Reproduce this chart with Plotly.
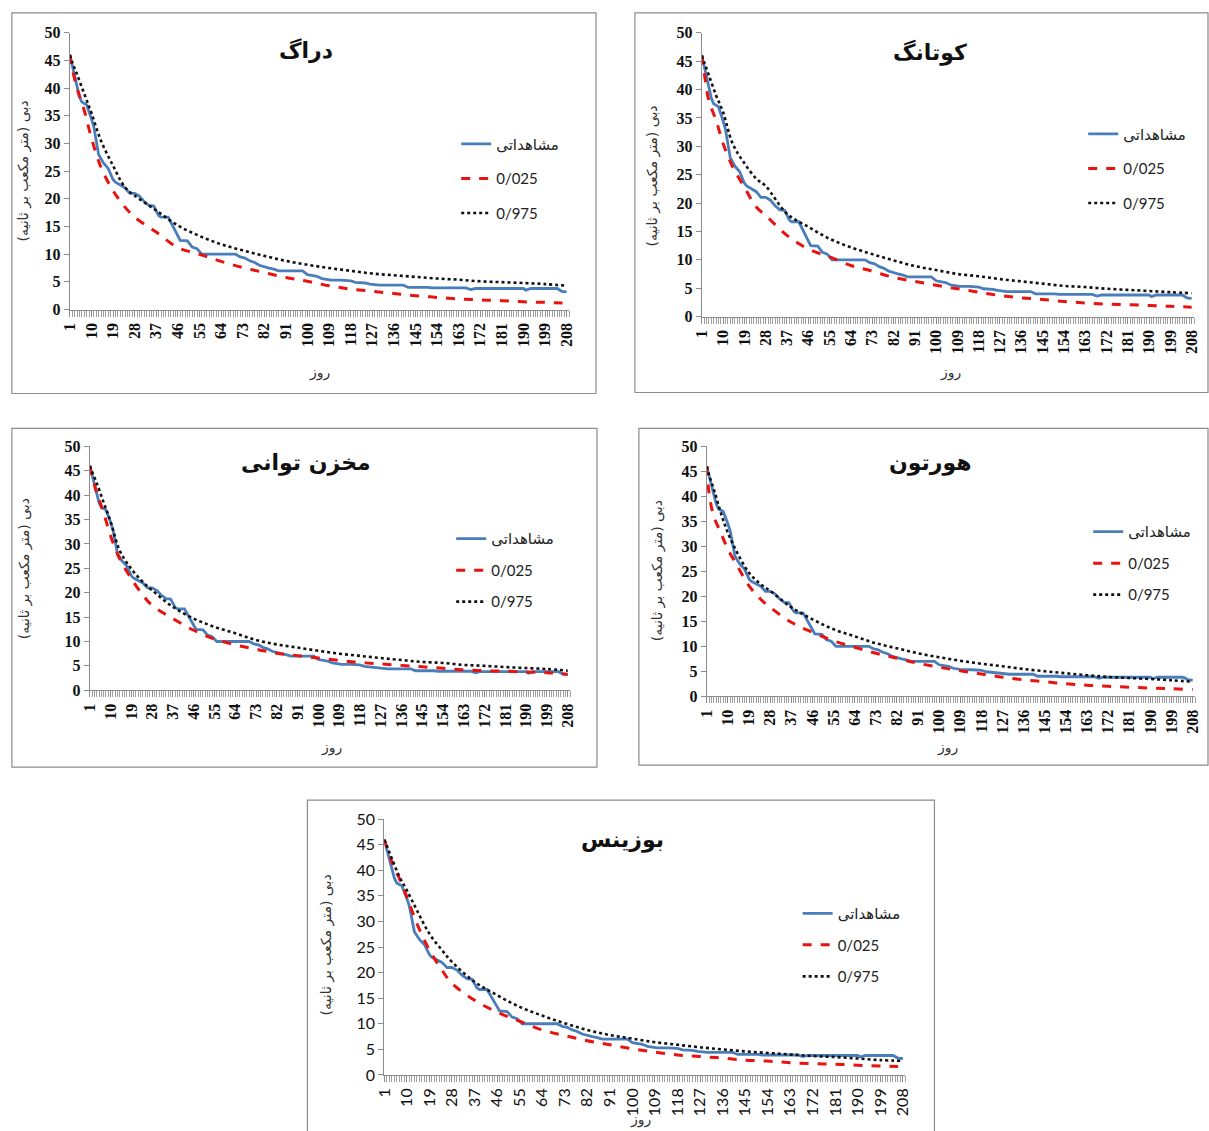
import plotly.graph_objects as go

W, H = 1209, 1131

# ---------------- data ----------------
tick_days = [1, 10, 19, 28, 37, 46, 55, 64, 73, 82, 91, 100, 109, 118, 127, 136,
             145, 154, 163, 172, 181, 190, 199, 208]
y_ticks = [0, 5, 10, 15, 20, 25, 30, 35, 40, 45, 50]

obs_days = [1, 3, 5, 6, 8, 10, 11, 13, 15, 17, 19, 20, 22, 24, 26, 28, 30, 32, 34, 36,
            38, 39, 42, 44, 46, 47, 50, 52, 54, 56, 58, 62, 66, 70, 72, 74, 76, 78, 80,
            82, 84, 86, 88, 92, 96, 98, 100, 102, 104, 106, 108, 110, 114, 118, 120,
            124, 126, 128, 130, 140, 142, 150, 152, 160, 166, 168, 170, 180, 190, 191,
            193, 200, 204, 206, 208]
observed = [46, 42, 38.5, 37.5, 37, 34.5, 33, 28, 26.5, 25.5, 23.5, 23, 22.5, 22, 21,
            21, 20.5, 19.5, 18.8, 18.7, 17, 16.7, 16.7, 15, 13.5, 12.5, 12.4, 11.3, 11,
            10, 10, 10, 10, 10, 9.5, 9.3, 8.8, 8.5, 8, 7.7, 7.5, 7.3, 7, 7, 7, 7, 6.3,
            6.2, 6, 5.6, 5.4, 5.3, 5.3, 5.2, 4.9, 4.8, 4.6, 4.5, 4.4, 4.4, 4.0, 4.0,
            3.9, 3.9, 3.9, 3.6, 3.8, 3.8, 3.8, 3.5, 3.8, 3.8, 3.8, 3.3, 3.2]

ci_days = [1, 2, 4, 7, 10, 14, 19, 24, 28, 37, 46, 55, 64, 73, 82, 91, 100, 109, 118,
           127, 136, 145, 154, 163, 172, 181, 190, 199, 208]

draag_low = [46, 43.5, 40, 36, 31, 25.7, 21.5, 18.5, 16.7, 14, 11.2, 10, 8.7, 7.6, 6.7,
             5.8, 5.1, 4.3, 3.7, 3.3, 2.9, 2.5, 2.2, 1.9, 1.75, 1.6, 1.4, 1.3, 1.15]
draag_high = [46, 44.7, 42.5, 39, 35.5, 30.5, 26, 22.1, 20.6, 17.9, 15.2, 13.3, 11.8,
              10.7, 9.7, 8.8, 8.1, 7.5, 7.0, 6.5, 6.2, 5.9, 5.6, 5.4, 5.1, 4.95, 4.8,
              4.6, 4.3]

kotang_low = [46, 43, 38, 34.6, 30.5, 26.4, 22.8, 19.3, 17.8, 14.3, 11.9, 10.5, 9.0,
              8.0, 6.9, 6.2, 5.5, 4.9, 4.3, 3.7, 3.3, 3.0, 2.65, 2.4, 2.2, 2.1, 1.95,
              1.8, 1.65]
kotang_high = [46, 44.8, 42.5, 39, 36, 30.5, 27, 24.3, 23, 18.1, 15.8, 13.7, 12.2, 11.0,
               9.9, 8.9, 8.2, 7.5, 7.1, 6.6, 6.2, 5.8, 5.4, 5.2, 4.9, 4.7, 4.5, 4.3, 4.1]

tavani_low = [46, 44, 40.5, 36.4, 31.7, 26.9, 22.9, 19.5, 17.4, 14.7, 12.3, 10.5, 9.3,
              8.4, 7.6, 7.1, 6.6, 6.1, 5.7, 5.4, 5.1, 4.8, 4.5, 4.2, 4.0, 3.9, 3.75,
              3.6, 3.3]
tavani_high = [46, 44.8, 42.5, 38.5, 34.6, 28.6, 24.9, 22.2, 20.5, 17.1, 14.7, 13.0,
               11.7, 10.3, 9.4, 8.75, 8.1, 7.5, 7.05, 6.6, 6.2, 5.8, 5.6, 5.2, 5.0, 4.75,
               4.55, 4.35, 4.0]

horton_low = [46, 40.5, 36, 32.7, 29.4, 26.1, 22.1, 19.4, 17.8, 14.8, 12.8, 11.1, 9.8,
              8.6, 7.6, 6.6, 5.8, 5.1, 4.45, 3.8, 3.3, 2.9, 2.5, 2.2, 2.0, 1.8, 1.65,
              1.5, 1.35]
horton_high = [46, 44.2, 41.4, 36.7, 32.7, 28.7, 24.7, 22.4, 21.1, 17.8, 15.4, 13.4,
               12.0, 10.6, 9.6, 8.6, 7.8, 7.1, 6.5, 6.0, 5.45, 5.0, 4.6, 4.2, 3.85, 3.65,
               3.45, 3.2, 2.9]

bozines_low = [46, 44.5, 41.7, 38.4, 34.8, 29.6, 24.4, 20.5, 17.9, 14.6, 12.3, 10.5,
               8.8, 7.7, 6.7, 5.9, 5.1, 4.45, 3.9, 3.6, 3.3, 2.9, 2.7, 2.4, 2.2, 2.1,
               1.9, 1.75, 1.6]
bozines_high = [46, 44.8, 42.3, 38.8, 36.1, 32.2, 27.6, 24.4, 22.1, 18.2, 15.6, 13.3,
                11.6, 10.1, 8.8, 7.8, 7.1, 6.4, 5.9, 5.4, 5.0, 4.6, 4.3, 4.0, 3.7, 3.5,
                3.2, 2.9, 2.75]

titles = ["دراگ", "کوتانگ", "مخزن توانی", "هورتون", "بوزینس"]
lows = [draag_low, kotang_low, tavani_low, horton_low, bozines_low]
highs = [draag_high, kotang_high, tavani_high, horton_high, bozines_high]
legend_names = ["مشاهداتی", "0/025", "0/975"]
y_title = "دبی (متر مکعب بر ثانیه)"
x_title = "روز"

# ---------------- layout geometry (target pixels in the picture) ----------------
SERIF = "Liberation Serif, DejaVu Serif, serif"
panels = [
    dict(box=(10, 12, 595, 393), plot=(68, 32, 568, 309), title=(305, 50),
         xt=(318, 372), yt=(22, 170), leg=(455, 127), font=SERIF, weight="bold", gap=12),
    dict(box=(634, 12, 1208, 392), plot=(701, 32, 1194, 316), title=(930, 52),
         xt=(950, 372), yt=(652, 175), leg=(1083, 117), font=SERIF, weight="bold", gap=12),
    dict(box=(10, 428, 596, 767), plot=(88, 446, 569, 690), title=(305, 463),
         xt=(330, 747), yt=(22, 568), leg=(450, 522), font=SERIF, weight="bold", gap=9),
    dict(box=(638, 428, 1208, 765), plot=(706, 446, 1195, 696), title=(930, 463),
         xt=(947, 747), yt=(656, 570), leg=(1088, 515), font=SERIF, weight="bold", gap=9),
    dict(box=(306, 800, 934, 1140), plot=(383, 819, 905, 1075), title=(622, 840),
         xt=(640, 1120), yt=(325, 945), leg=(797, 897), font="Lato", weight="normal", gap=9),
]

# compensation for the capture's slight scale/offset
SX, OX = 0.9875, 9.1
SY, OY = 0.984, 9.2

def px(x):
    return ((x - OX) / SX) / W

def py(y):
    return 1 - ((y - OY) / SY) / H

fig = go.Figure()
shapes = []
annotations = []
layout = {}

for i, p in enumerate(panels):
    k = "" if i == 0 else str(i + 1)
    xa, ya = "x" + k, "y" + k
    leg = "legend" if i == 0 else "legend" + str(i + 1)
    x0, y0, x1, y1 = p["plot"]
    layout["xaxis" + k] = dict(
        domain=[px(x0), px(x1)], anchor=ya, range=[1, 209],
        tickmode="array", tickvals=tick_days, ticktext=[str(t) for t in tick_days],
        tickangle=-90, ticks="outside", ticklen=6, tickcolor="#8c8c8c",
        minor=dict(tickmode="linear", tick0=1, dtick=1, ticks="outside", ticklen=6,
                   tickcolor="#a0a0a0", tickwidth=1),
        showline=True, linecolor="#8c8c8c", linewidth=1, showgrid=False,
        zeroline=False,
        tickfont=dict(family=p["font"], size=16, color="#111", weight=p["weight"]),
    )
    layout["yaxis" + k] = dict(
        domain=[py(y1), py(y0)], anchor=xa, range=[0, 50],
        tickmode="array", tickvals=y_ticks, ticks="outside", ticklen=5,
        tickcolor="#8c8c8c", showline=True, linecolor="#8c8c8c", linewidth=1,
        showgrid=False, zeroline=False,
        tickfont=dict(family=p["font"], size=16, color="#111", weight=p["weight"]),
    )
    lx, ly = p["leg"]
    layout[leg] = dict(
        x=px(lx), y=py(ly), xanchor="left", yanchor="top",
        bgcolor="rgba(0,0,0,0)", tracegroupgap=p["gap"],
        font=dict(family="Lato, DejaVu Sans", size=15, color="#222"),
    )

    fig.add_trace(go.Scatter(
        x=obs_days, y=observed, mode="lines", name=legend_names[0],
        line=dict(color="#4a7ebb", width=2.8), xaxis=xa, yaxis=ya, legend=leg,
        legendgroup=f"o{i}"))
    fig.add_trace(go.Scatter(
        x=ci_days, y=lows[i], mode="lines", name=legend_names[1],
        line=dict(color="#e8120f", width=3, dash="dash", shape="spline"),
        xaxis=xa, yaxis=ya, legend=leg, legendgroup=f"l{i}"))
    fig.add_trace(go.Scatter(
        x=ci_days, y=highs[i], mode="lines", name=legend_names[2],
        line=dict(color="#111111", width=2.6, dash="dot", shape="spline"),
        xaxis=xa, yaxis=ya, legend=leg, legendgroup=f"h{i}"))

    bx0, by0, bx1, by1 = p["box"]
    shapes.append(dict(type="rect", xref="paper", yref="paper",
                       x0=px(bx0), x1=px(bx1), y0=py(by1), y1=py(by0),
                       line=dict(color="#8c8c8c", width=1.2)))
    tx, ty = p["title"]
    annotations.append(dict(text="<b>" + titles[i] + "</b>", x=px(tx), y=py(ty),
                            xref="paper", yref="paper", showarrow=False,
                            xanchor="center", yanchor="middle",
                            font=dict(family="DejaVu Sans", size=22, color="#111")))
    xx, xy = p["xt"]
    annotations.append(dict(text=x_title, x=px(xx), y=py(xy), xref="paper", yref="paper",
                            showarrow=False, xanchor="center", yanchor="middle",
                            font=dict(family="DejaVu Sans", size=14, color="#333")))
    yx, yy = p["yt"]
    annotations.append(dict(text=y_title, x=px(yx), y=py(yy), xref="paper", yref="paper",
                            showarrow=False, textangle=-90,
                            xanchor="center", yanchor="middle",
                            font=dict(family="DejaVu Sans", size=14, color="#333")))

fig.update_layout(
    width=W, height=H, margin=dict(l=0, r=0, t=0, b=0),
    paper_bgcolor="white", plot_bgcolor="white",
    shapes=shapes, annotations=annotations, showlegend=True, **layout,
)

fig.write_html(
    "out.html",
    config={"displayModeBar": False},
    post_script="document.body.style.margin='0';document.body.style.padding='0';"
                "document.documentElement.style.overflow='hidden';",
)
